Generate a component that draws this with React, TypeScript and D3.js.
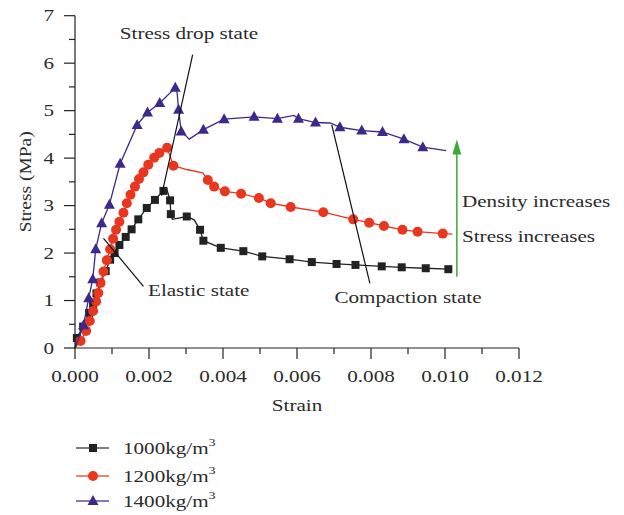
import * as d3 from "d3";
import type { ReactNode } from "react";

const WIDTH = 624;
const HEIGHT = 515;
const FONT = "'Liberation Serif', 'Times New Roman', serif";
const TEXT = "#2b2b2b";
const FS = 16.5;
const STRETCH = 1.28; // the source figure's lettering is wide

// strain / stress pairs (marker positions)
const marks1000: [number, number][] = [
  [0.00005, 0.21], [0.00022, 0.45], [0.00038, 0.74], [0.00049, 0.93], [0.00058, 1.15],
  [0.00068, 1.38], [0.00083, 1.62], [0.00095, 1.86], [0.00107, 2.0], [0.0012, 2.17],
  [0.00137, 2.34], [0.00153, 2.5], [0.00171, 2.71], [0.00194, 2.95], [0.00216, 3.12],
  [0.00239, 3.31], [0.00257, 3.11], [0.00259, 2.82], [0.00302, 2.77], [0.00338, 2.49],
  [0.00347, 2.26], [0.00394, 2.11], [0.00455, 2.04], [0.00506, 1.93], [0.0058, 1.87],
  [0.0064, 1.81], [0.00707, 1.77], [0.00758, 1.75], [0.00829, 1.72], [0.00883, 1.7],
  [0.00948, 1.68], [0.01009, 1.66],
];
// extra bends of the curve without a marker
const bends1000: [number, number][] = [[0, 0], [0.00248, 3.35], [0.00263, 2.71], [0.00322, 2.7]];

const marks1200: [number, number][] = [
  [0.00015, 0.15], [0.0003, 0.36], [0.0004, 0.57], [0.00049, 0.78], [0.00057, 0.98],
  [0.00063, 1.16], [0.00069, 1.37], [0.00077, 1.61], [0.00086, 1.85], [0.00095, 2.08],
  [0.00103, 2.3], [0.00111, 2.49], [0.0012, 2.66], [0.00131, 2.85], [0.0014, 3.05],
  [0.0015, 3.23], [0.00162, 3.4], [0.00173, 3.56], [0.00185, 3.7], [0.00198, 3.86],
  [0.00214, 4.01], [0.00228, 4.11], [0.00249, 4.22], [0.00266, 3.84], [0.00359, 3.54],
  [0.00376, 3.4], [0.00405, 3.3], [0.00449, 3.25], [0.00497, 3.16], [0.00529, 3.05],
  [0.00583, 2.97], [0.00671, 2.86], [0.00752, 2.71], [0.00795, 2.64], [0.00835, 2.57],
  [0.00885, 2.49], [0.00926, 2.45], [0.00994, 2.41],
];
const bends1200: [number, number][] = [[0, 0], [0.00302, 3.76], [0.00345, 3.69], [0.0102, 2.4]];

const marks1400: [number, number][] = [
  [0.00023, 0.48], [0.00037, 1.05], [0.00048, 1.45], [0.00056, 2.08], [0.00072, 2.63],
  [0.00093, 3.02], [0.00122, 3.88], [0.00168, 4.7], [0.00196, 4.96], [0.00229, 5.16],
  [0.00271, 5.48], [0.0028, 5.02], [0.00287, 4.56], [0.00347, 4.6], [0.00403, 4.82],
  [0.00484, 4.87], [0.00547, 4.83], [0.00604, 4.83], [0.0065, 4.75], [0.00716, 4.65],
  [0.00775, 4.58], [0.00831, 4.55], [0.00889, 4.4], [0.0094, 4.23],
];
const bends1400: [number, number][] = [
  [0, 0], [0.00276, 5.38], [0.00309, 4.4], [0.00592, 4.9], [0.0069, 4.74], [0.01003, 4.16],
];

const seriesNames = ["1000", "1200", "1400"];
const seriesColors = ["#222222", "#e8361f", "#3a2a8e"];
const legendLineColors = ["#555555", "#ee5a45", "#5a4fa0"];
const seriesShapes = ["square", "circle", "triangle"];

const xTicks = ["0.000", "0.002", "0.004", "0.006", "0.008", "0.010", "0.012"];
const yTicks = ["0", "1", "2", "3", "4", "5", "6", "7"];

// annotation leader lines, in strain / stress units
const leaders: { from: [number, number]; to: [number, number] }[] = [
  { from: [0.00318, 6.18], to: [0.00234, 3.21] },
  { from: [0.00077, 2.31], to: [0.00185, 1.3] },
  { from: [0.00694, 4.7], to: [0.00797, 1.36] },
];

const Marker = ({ shape, cx, cy, color }: { shape: string; cx: number; cy: number; color: string }) => {
  if (shape === "square") return <rect x={cx - 4} y={cy - 4} width={8} height={8} fill={color} />;
  if (shape === "circle") return <circle cx={cx} cy={cy} r={5} fill={color} />;
  return <path d={`M${cx},${cy - 6}L${cx + 5.5},${cy + 4}L${cx - 5.5},${cy + 4}Z`} fill={color} />;
};

const T = ({
  x,
  y,
  anchor = "start",
  rotate = 0,
  sx = STRETCH,
  children,
}: {
  x: number;
  y: number;
  anchor?: string;
  rotate?: number;
  sx?: number;
  children: ReactNode;
}) => (
  <text
    transform={`translate(${x},${y}) rotate(${rotate}) scale(${sx},1)`}
    textAnchor={anchor}
    fill={TEXT}
    fontSize={FS}
  >
    {children}
  </text>
);

export default function App() {
  const x = d3.scaleLinear().domain([0, 0.012]).range([75, 519]);
  const y = d3.scaleLinear().domain([0, 7]).range([348, 15.7]);

  const marks = [marks1000, marks1200, marks1400];
  const bends = [bends1000, bends1200, bends1400];
  const line = d3
    .line<[number, number]>()
    .x((d) => x(d[0]))
    .y((d) => y(d[1]));

  const majorX = d3.range(0, 0.0121, 0.002);
  const minorX = d3.range(0.001, 0.012, 0.002);
  const majorY = d3.range(0, 8, 1);
  const minorY = d3.range(0.5, 7, 1);

  const arrowX = x(0.01032);
  const arrowTop = y(4.39);

  return (
    <svg
      width={WIDTH}
      height={HEIGHT}
      style={{ position: "absolute", left: 0, top: 0, background: "#fff" }}
      fontFamily={FONT}
    >
      {/* curves */}
      {marks.map((m, i) => {
        const pts = [...m, ...bends[i]].sort((a, b) => a[0] - b[0]);
        return (
          <g key={i}>
            <path d={line(pts) || ""} fill="none" stroke={seriesColors[i]} strokeWidth={1.3} />
            {m.map((d, j) => (
              <Marker key={j} shape={seriesShapes[i]} cx={x(d[0])} cy={y(d[1])} color={seriesColors[i]} />
            ))}
          </g>
        );
      })}

      {/* leader lines */}
      {leaders.map((l, i) => (
        <line
          key={i}
          x1={x(l.from[0])}
          y1={y(l.from[1])}
          x2={x(l.to[0])}
          y2={y(l.to[1])}
          stroke="#111"
          strokeWidth={1.2}
        />
      ))}

      {/* axes */}
      <g stroke="#222" strokeWidth={1.2}>
        <line x1={75} x2={75} y1={y(0)} y2={y(7)} />
        <line x1={75} x2={519} y1={y(0)} y2={y(0)} />
        {majorX.map((v, i) => (
          <line key={"mx" + i} x1={x(v)} x2={x(v)} y1={y(0)} y2={y(0) + 11} />
        ))}
        {minorX.map((v, i) => (
          <line key={"nx" + i} x1={x(v)} x2={x(v)} y1={y(0)} y2={y(0) + 6} />
        ))}
        {majorY.map((v, i) => (
          <line key={"my" + i} x1={64} x2={75} y1={y(v)} y2={y(v)} />
        ))}
        {minorY.map((v, i) => (
          <line key={"ny" + i} x1={69} x2={75} y1={y(v)} y2={y(v)} />
        ))}
      </g>

      {majorX.map((v, i) => (
        <T key={"tx" + i} x={x(v)} y={y(0) + 34} anchor="middle">
          {xTicks[i]}
        </T>
      ))}
      {majorY.map((v, i) => (
        <T key={"ty" + i} x={54} y={y(v) + 5.5} anchor="end">
          {yTicks[i]}
        </T>
      ))}
      <T x={297} y={411} anchor="middle">
        Strain
      </T>
      <T x={31} y={(y(0) + y(7)) / 2} anchor="middle" rotate={-90} sx={1.18}>
        Stress (MPa)
      </T>

      <T x={189} y={39} anchor="middle">
        Stress drop state
      </T>
      <T x={148} y={296}>
        Elastic state
      </T>
      <T x={408} y={303} anchor="middle">
        Compaction state
      </T>
      <T x={462} y={207}>
        Density increases
      </T>
      <T x={462} y={242}>
        Stress increases
      </T>

      {/* green arrow */}
      <line x1={arrowX} x2={arrowX} y1={y(1.5)} y2={arrowTop + 10} stroke="#3aa935" strokeWidth={1.5} />
      <path
        d={`M${arrowX},${arrowTop}L${arrowX + 4.5},${arrowTop + 15}L${arrowX - 4.5},${arrowTop + 15}Z`}
        fill="#3aa935"
      />

      {/* legend */}
      {seriesNames.map((name, i) => {
        const ly = [448, 476, 501][i];
        return (
          <g key={name}>
            <line x1={76} x2={109} y1={ly} y2={ly} stroke={legendLineColors[i]} strokeWidth={1.6} />
            <Marker shape={seriesShapes[i]} cx={93} cy={ly} color={seriesColors[i]} />
            <T x={123} y={ly + 5.5}>
              {name}kg/m
              <tspan fontSize={11} dy={-8}>
                3
              </tspan>
            </T>
          </g>
        );
      })}
    </svg>
  );
}
